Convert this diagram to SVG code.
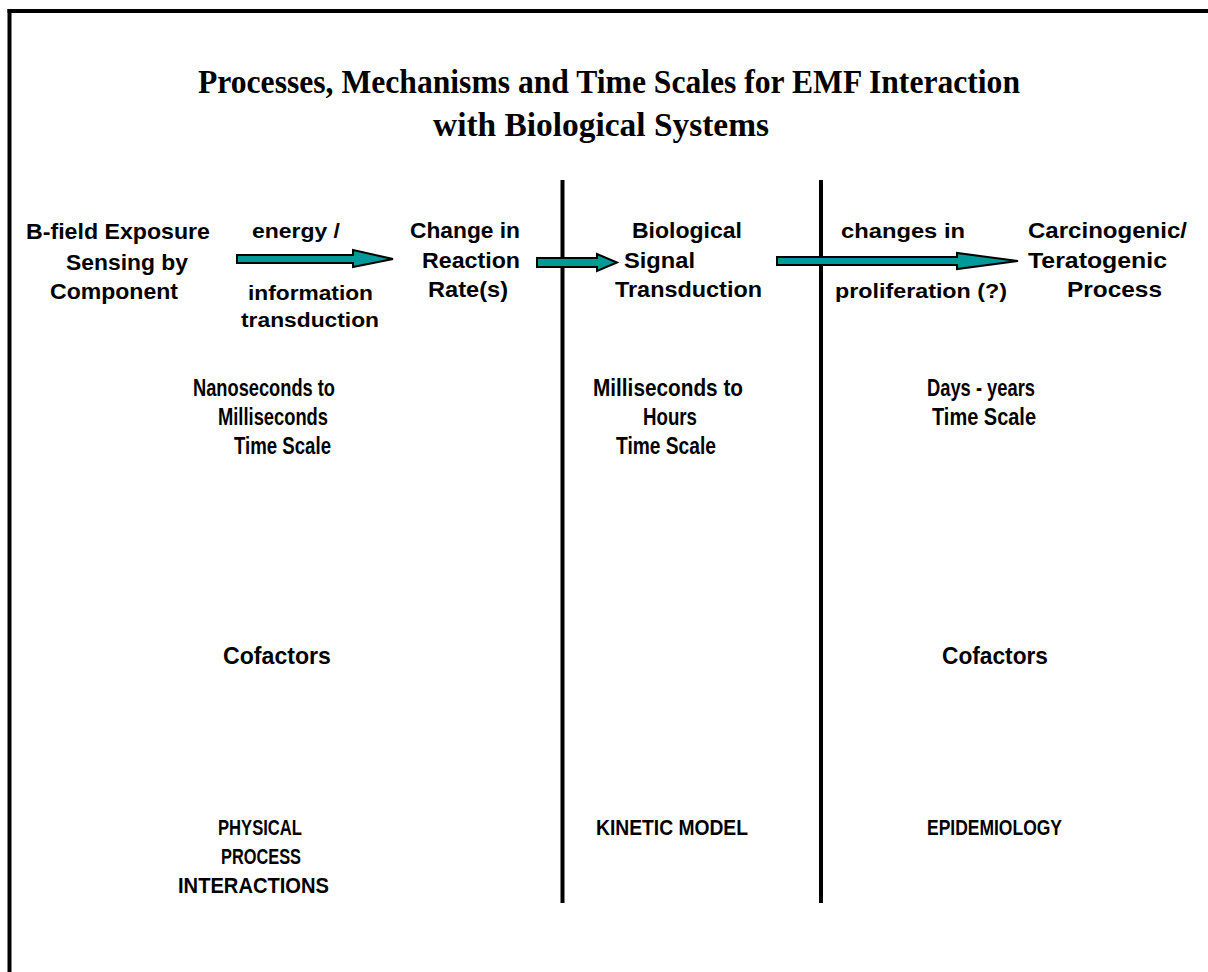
<svg xmlns="http://www.w3.org/2000/svg" width="1208" height="972" viewBox="0 0 1208 972">
  <style>
    .title { font-family: "Liberation Serif", "Times New Roman", serif; font-weight: bold; font-size: 33px; fill: #000; }
    .lbl { font-family: "Liberation Sans", Arial, sans-serif; font-weight: bold; font-size: 22px; fill: #000; }
    .tall { font-family: "Liberation Sans", Arial, sans-serif; font-weight: bold; font-size: 24px; fill: #000; }
    .small { font-family: "Liberation Sans", Arial, sans-serif; font-weight: bold; font-size: 20px; fill: #000; }
    .caps { font-family: "Liberation Sans", Arial, sans-serif; font-weight: bold; font-size: 22px; fill: #000; }
    .arrow { fill: #009999; stroke: #000; stroke-width: 2; stroke-linejoin: miter; }
    .divider { stroke: #000; stroke-width: 4; }
  </style>

  <rect width="1208" height="972" fill="#fff"/>

  <!-- frame: top and left edges -->
  <g id="frame">
    <line x1="7.5" y1="11" x2="1208" y2="11" class="divider"/>
    <line x1="9.5" y1="9" x2="9.5" y2="972" class="divider"/>
  </g>

  <g id="title">
    <text class="title" x="198" y="93" textLength="822" lengthAdjust="spacingAndGlyphs">Processes, Mechanisms and Time Scales for EMF Interaction</text>
    <text class="title" x="433" y="136" textLength="336" lengthAdjust="spacingAndGlyphs">with Biological Systems</text>
  </g>

  <!-- column dividers -->
  <g id="dividers">
    <line x1="562.5" y1="180" x2="562.5" y2="903" class="divider"/>
    <line x1="821" y1="180" x2="821" y2="903" class="divider"/>
  </g>

  <!-- flow nodes -->
  <g id="node-exposure">
    <text class="lbl" x="26" y="239" textLength="184" lengthAdjust="spacingAndGlyphs">B-field Exposure</text>
    <text class="lbl" x="66" y="270" textLength="122" lengthAdjust="spacingAndGlyphs">Sensing by</text>
    <text class="lbl" x="50" y="299" textLength="128" lengthAdjust="spacingAndGlyphs">Component</text>
  </g>

  <g id="node-reaction">
    <text class="lbl" x="410" y="238" textLength="110" lengthAdjust="spacingAndGlyphs">Change in</text>
    <text class="lbl" x="422" y="268" textLength="98" lengthAdjust="spacingAndGlyphs">Reaction</text>
    <text class="lbl" x="428" y="297" textLength="80" lengthAdjust="spacingAndGlyphs">Rate(s)</text>
  </g>

  <g id="node-signal">
    <text class="lbl" x="632" y="238" textLength="110" lengthAdjust="spacingAndGlyphs">Biological</text>
    <text class="lbl" x="624" y="268" textLength="71" lengthAdjust="spacingAndGlyphs">Signal</text>
    <text class="lbl" x="615" y="297" textLength="147" lengthAdjust="spacingAndGlyphs">Transduction</text>
  </g>

  <g id="node-process">
    <text class="lbl" x="1028" y="238" textLength="159" lengthAdjust="spacingAndGlyphs">Carcinogenic/</text>
    <text class="lbl" x="1028" y="268" textLength="139" lengthAdjust="spacingAndGlyphs">Teratogenic</text>
    <text class="lbl" x="1067" y="297" textLength="95" lengthAdjust="spacingAndGlyphs">Process</text>
  </g>

  <!-- connectors with their labels -->
  <g id="connectors">
    <polygon class="arrow" points="237,255 353,255 353,250 393,259 353,267 353,263 237,263"/>
    <polygon class="arrow" points="537,258 597,258 597,254 617,262.5 597,271 597,267 537,267"/>
    <polygon class="arrow" points="777,257 957,257 957,253 1018,261 957,269 957,265 777,265"/>
    <text class="small" x="252" y="238" textLength="88" lengthAdjust="spacingAndGlyphs">energy /</text>
    <text class="small" x="248" y="300" textLength="125" lengthAdjust="spacingAndGlyphs">information</text>
    <text class="small" x="241" y="327" textLength="138" lengthAdjust="spacingAndGlyphs">transduction</text>
    <text class="small" x="841" y="238" textLength="124" lengthAdjust="spacingAndGlyphs">changes  in</text>
    <text class="small" x="835" y="298" textLength="172" lengthAdjust="spacingAndGlyphs">proliferation (?)</text>
  </g>

  <!-- time scales -->
  <g id="time-physical">
    <text class="tall" x="193" y="396" textLength="142" lengthAdjust="spacingAndGlyphs">Nanoseconds to</text>
    <text class="tall" x="218" y="425" textLength="110" lengthAdjust="spacingAndGlyphs">Milliseconds</text>
    <text class="tall" x="234" y="454" textLength="97" lengthAdjust="spacingAndGlyphs">Time Scale</text>
  </g>
  <g id="time-kinetic">
    <text class="tall" x="593" y="396" textLength="150" lengthAdjust="spacingAndGlyphs">Milliseconds to</text>
    <text class="tall" x="643" y="425" textLength="54" lengthAdjust="spacingAndGlyphs">Hours</text>
    <text class="tall" x="616" y="454" textLength="100" lengthAdjust="spacingAndGlyphs">Time Scale</text>
  </g>
  <g id="time-epidemiology">
    <text class="tall" x="927" y="396" textLength="108" lengthAdjust="spacingAndGlyphs">Days - years</text>
    <text class="tall" x="932" y="425" textLength="104" lengthAdjust="spacingAndGlyphs">Time Scale</text>
  </g>

  <!-- cofactors -->
  <g id="cofactors-left">
    <text class="tall" x="223" y="664" textLength="108" lengthAdjust="spacingAndGlyphs">Cofactors</text>
  </g>
  <g id="cofactors-right">
    <text class="tall" x="942" y="664" textLength="106" lengthAdjust="spacingAndGlyphs">Cofactors</text>
  </g>

  <!-- approaches -->
  <g id="approach-physical">
    <text class="caps" x="218" y="835" textLength="84" lengthAdjust="spacingAndGlyphs">PHYSICAL</text>
    <text class="caps" x="221" y="864" textLength="80" lengthAdjust="spacingAndGlyphs">PROCESS</text>
    <text class="caps" x="178" y="893" textLength="151" lengthAdjust="spacingAndGlyphs">INTERACTIONS</text>
  </g>
  <g id="approach-kinetic">
    <text class="caps" x="596" y="835" textLength="152" lengthAdjust="spacingAndGlyphs">KINETIC MODEL</text>
  </g>
  <g id="approach-epidemiology">
    <text class="caps" x="927" y="835" textLength="135" lengthAdjust="spacingAndGlyphs">EPIDEMIOLOGY</text>
  </g>
</svg>
